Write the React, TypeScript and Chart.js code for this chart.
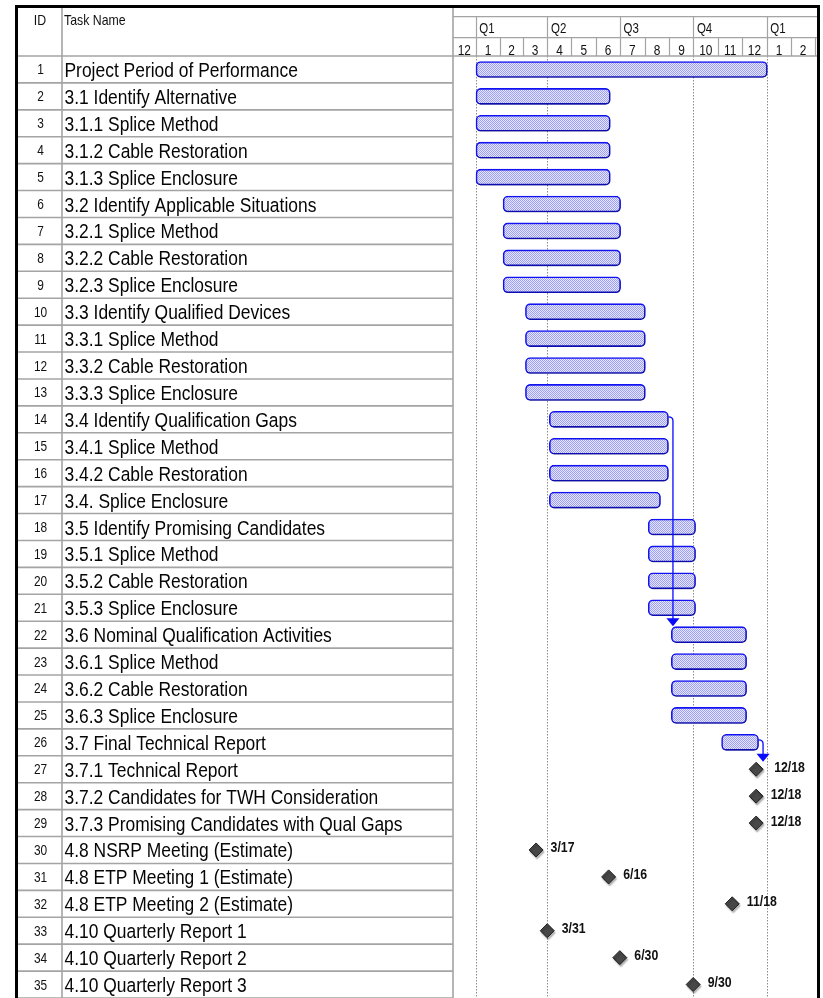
import React, { useEffect, useRef } from "react";
import { Chart, registerables } from "chart.js";

Chart.register(...registerables);

// ---------------- DATA ----------------
const BASE_YEAR = 2015;

const taskIds = [
  1, 2, 3, 4, 5, 6, 7, 8, 9, 10, 11, 12, 13, 14, 15, 16, 17, 18, 19, 20, 21, 22, 23, 24, 25, 26, 27, 28,
  29, 30, 31, 32, 33, 34, 35,
];

const taskNames = [
  "Project Period of Performance",
  "3.1 Identify Alternative",
  "3.1.1 Splice Method",
  "3.1.2 Cable Restoration",
  "3.1.3 Splice Enclosure",
  "3.2 Identify Applicable Situations",
  "3.2.1 Splice Method",
  "3.2.2 Cable Restoration",
  "3.2.3 Splice Enclosure",
  "3.3 Identify Qualified Devices",
  "3.3.1 Splice Method",
  "3.3.2 Cable Restoration",
  "3.3.3 Splice Enclosure",
  "3.4 Identify Qualification Gaps",
  "3.4.1 Splice Method",
  "3.4.2 Cable Restoration",
  "3.4. Splice Enclosure",
  "3.5 Identify Promising Candidates",
  "3.5.1 Splice Method",
  "3.5.2 Cable Restoration",
  "3.5.3 Splice Enclosure",
  "3.6 Nominal Qualification Activities",
  "3.6.1 Splice Method",
  "3.6.2 Cable Restoration",
  "3.6.3 Splice Enclosure",
  "3.7 Final Technical Report",
  "3.7.1 Technical Report",
  "3.7.2 Candidates for TWH Consideration",
  "3.7.3 Promising Candidates with Qual Gaps",
  "4.8 NSRP Meeting (Estimate)",
  "4.8 ETP Meeting 1 (Estimate)",
  "4.8 ETP Meeting 2 (Estimate)",
  "4.10 Quarterly Report 1",
  "4.10 Quarterly Report 2",
  "4.10 Quarterly Report 3",
];

const barStarts: (string | null)[] = [
  "2015-01-01",
  "2015-01-01", "2015-01-01", "2015-01-01", "2015-01-01",
  "2015-02-04", "2015-02-04", "2015-02-04", "2015-02-04",
  "2015-03-04", "2015-03-04", "2015-03-04", "2015-03-04",
  "2015-04-03", "2015-04-03", "2015-04-03", "2015-04-03",
  "2015-08-05", "2015-08-05", "2015-08-05", "2015-08-05",
  "2015-09-03", "2015-09-03", "2015-09-03", "2015-09-03",
  "2015-11-05",
  null, null, null, null, null, null, null, null, null,
];

const barFinishes: (string | null)[] = [
  "2016-01-01",
  "2015-06-18", "2015-06-18", "2015-06-18", "2015-06-18",
  "2015-07-01", "2015-07-01", "2015-07-01", "2015-07-01",
  "2015-08-01", "2015-08-01", "2015-08-01", "2015-08-01",
  "2015-08-30", "2015-08-30", "2015-08-30", "2015-08-20",
  "2015-10-03", "2015-10-03", "2015-10-03", "2015-10-03",
  "2015-12-06", "2015-12-06", "2015-12-06", "2015-12-06",
  "2015-12-21",
  null, null, null, null, null, null, null, null, null,
];

const milestoneDates: (string | null)[] = [
  null, null, null, null, null, null, null, null, null, null, null, null, null, null, null, null, null,
  null, null, null, null, null, null, null, null, null,
  "2015-12-18", "2015-12-18", "2015-12-18",
  "2015-03-17", "2015-06-16", "2015-11-18",
  "2015-03-31", "2015-06-30", "2015-09-30",
];

const quarterLabels = ["Q1", "Q2", "Q3", "Q4", "Q1"];
const quarterStarts = ["2015-01-01", "2015-04-01", "2015-07-01", "2015-10-01", "2016-01-01"];

const monthLabels = ["12", "1", "2", "3", "4", "5", "6", "7", "8", "9", "10", "11", "12", "1", "2"];
const monthStarts = [
  "2014-12-01", "2015-01-01", "2015-02-01", "2015-03-01", "2015-04-01", "2015-05-01", "2015-06-01",
  "2015-07-01", "2015-08-01", "2015-09-01", "2015-10-01", "2015-11-01", "2015-12-01", "2016-01-01",
  "2016-02-01",
];
const monthsEnd = "2016-03-01";

const gridlineDates = ["2015-01-01", "2015-04-01", "2015-10-01", "2016-01-01"];
const dependencyLinks: [number, number][] = [
  [14, 22],
  [26, 27],
];

const axisStartDate = "2014-12-03";
const axisEndDate = "2016-03-04";

// ---------------- HELPERS ----------------
function dayOf(s: string): number {
  const [y, m, d] = s.split("-").map(Number);
  return (Date.UTC(y, m - 1, d) - Date.UTC(BASE_YEAR, 0, 1)) / 86400000;
}
const WORK_START = 8 / 24;
const WORK_END = 17 / 24;

function shortDate(s: string): string {
  const [, m, d] = s.split("-").map(Number);
  return `${m}/${d}`;
}

const FONT = '"Liberation Sans", Arial, Helvetica, sans-serif';

function narrowText(
  ctx: CanvasRenderingContext2D,
  text: string,
  x: number,
  y: number,
  font: string,
  sx: number,
  align: CanvasTextAlign,
  color: string
) {
  ctx.save();
  ctx.font = font;
  ctx.fillStyle = color;
  ctx.textAlign = align;
  ctx.textBaseline = "alphabetic";
  ctx.translate(x, y);
  ctx.scale(sx, 1);
  ctx.fillText(text, 0, 0);
  ctx.restore();
}

const W = 823;
const H = 998;
const FRAME_L = 15;
const FRAME_T = 5;
const FRAME_R = 820;
const FRAME_W = 3;
const ID_RIGHT = 62;
const HEADER_BOTTOM = 56;
const TIER1 = 16.7;
const TIER2 = 37.7;
const GRID_GRAY = "#a4a4a4";

export default function App() {
  const canvasRef = useRef<HTMLCanvasElement | null>(null);

  useEffect(() => {
    const canvas = canvasRef.current;
    if (!canvas) return;
    const ctx0 = canvas.getContext("2d")!;

    const pc = document.createElement("canvas");
    pc.width = 2;
    pc.height = 2;
    const pctx = pc.getContext("2d")!;
    pctx.fillStyle = "#e6e7fe";
    pctx.fillRect(0, 0, 2, 2);
    pctx.fillStyle = "#9c9ff4";
    pctx.fillRect(0, 0, 1, 1);
    pctx.fillRect(1, 1, 1, 1);
    const pattern = ctx0.createPattern(pc, "repeat")!;

    const barData = barStarts.map((s, i) =>
      s && barFinishes[i] ? [dayOf(s) + WORK_START, dayOf(barFinishes[i] as string) + WORK_END] : null
    );
    const barEndDays = barData.map((b) => (b ? (b as number[])[1] : null));
    const milestoneDays = milestoneDates.map((s) => (s ? dayOf(s) + WORK_END : null));

    const tablePlugin = {
      id: "ganttTable",
      beforeDraw(chart: any) {
        const { ctx, chartArea, scales } = chart;
        const x = scales.x;
        ctx.save();
        ctx.fillStyle = "#ffffff";
        ctx.fillRect(0, 0, W, H);
        // dotted vertical gridlines
        ctx.strokeStyle = "#8a8a8a";
        ctx.lineWidth = 1;
        ctx.setLineDash([1.5, 1.5]);
        gridlineDates.forEach((d) => {
          const px = Math.round(x.getPixelForValue(dayOf(d))) + 0.5;
          ctx.beginPath();
          ctx.moveTo(px, HEADER_BOTTOM);
          ctx.lineTo(px, chartArea.bottom);
          ctx.stroke();
        });
        ctx.restore();
      },
      beforeDatasetDraw(chart: any) {
        const ctx = chart.ctx;
        ctx.save();
        ctx.shadowColor = "rgba(0,0,0,0.28)";
        ctx.shadowOffsetX = 1;
        ctx.shadowOffsetY = 2;
        ctx.shadowBlur = 1.5;
      },
      afterDatasetDraw(chart: any) {
        chart.ctx.restore();
      },
      afterDatasetsDraw(chart: any) {
        const { ctx, scales } = chart;
        const x = scales.x;
        const y = scales.y;
        // dependency links
        ctx.save();
        dependencyLinks.forEach(([from, to]) => {
          const fi = from - 1;
          const ti = to - 1;
          const endDay = barEndDays[fi];
          if (endDay == null) return;
          const endX = x.getPixelForValue(endDay);
          const cy = y.getPixelForValue(fi) - 2.5;
          const vx = endX + 4.5;
          const tcy = y.getPixelForValue(ti);
          const tipY = milestoneDays[ti] != null ? tcy - 7.5 : tcy - 8.5;
          ctx.strokeStyle = "#0a0aff";
          ctx.fillStyle = "#0a0aff";
          ctx.lineWidth = 1.3;
          ctx.beginPath();
          ctx.moveTo(endX, cy);
          ctx.quadraticCurveTo(vx, cy, vx, cy + 4);
          ctx.lineTo(vx, tipY - 7);
          ctx.stroke();
          ctx.beginPath();
          ctx.moveTo(vx - 6.5, tipY - 8);
          ctx.lineTo(vx + 6.5, tipY - 8);
          ctx.lineTo(vx, tipY);
          ctx.closePath();
          ctx.fill();
        });
        ctx.restore();
        // milestone labels
        const linkedTargets = dependencyLinks.map(([, t]) => t - 1);
        milestoneDates.forEach((s, i) => {
          const md = milestoneDays[i];
          if (!s || md == null) return;
          const px = x.getPixelForValue(md);
          const cy = y.getPixelForValue(i);
          const off = linkedTargets.includes(i) ? 18 : 14.5;
          narrowText(ctx, shortDate(s), px + off, cy + 2.5, `bold 15px ${FONT}`, 0.82, "left", "#111111");
        });
      },
      afterDraw(chart: any) {
        const { ctx, chartArea, scales } = chart;
        const x = scales.x;
        const y = scales.y;
        const left = chartArea.left;
        const right = chartArea.right;
        const rowH = (chartArea.bottom - chartArea.top) / taskNames.length;
        ctx.save();
        // table row lines
        ctx.strokeStyle = GRID_GRAY;
        ctx.lineWidth = 1.6;
        for (let i = 0; i < taskNames.length; i++) {
          const by = chartArea.top + (i + 1) * rowH;
          ctx.beginPath();
          ctx.moveTo(FRAME_L + FRAME_W, by);
          ctx.lineTo(left, by);
          ctx.stroke();
        }
        // header bottom
        ctx.beginPath();
        ctx.moveTo(FRAME_L + FRAME_W, HEADER_BOTTOM);
        ctx.lineTo(right, HEADER_BOTTOM);
        ctx.stroke();
        // column separators
        ctx.beginPath();
        ctx.moveTo(ID_RIGHT, FRAME_T + FRAME_W);
        ctx.lineTo(ID_RIGHT, H);
        ctx.moveTo(left, FRAME_T + FRAME_W);
        ctx.lineTo(left, H);
        ctx.stroke();

        // timeline header lines
        ctx.lineWidth = 1.2;
        ctx.beginPath();
        ctx.moveTo(left, TIER1);
        ctx.lineTo(right, TIER1);
        ctx.moveTo(left, TIER2);
        ctx.lineTo(right, TIER2);
        ctx.stroke();
        // quarter separators
        quarterStarts.forEach((q) => {
          const px = Math.round(x.getPixelForValue(dayOf(q))) + 0.5;
          ctx.beginPath();
          ctx.moveTo(px, TIER1);
          ctx.lineTo(px, TIER2);
          ctx.stroke();
        });
        // month separators
        [...monthStarts, monthsEnd].forEach((m) => {
          const px = Math.round(x.getPixelForValue(dayOf(m))) + 0.5;
          if (px <= left + 1 || px >= right) return;
          ctx.beginPath();
          ctx.moveTo(px, TIER2);
          ctx.lineTo(px, HEADER_BOTTOM);
          ctx.stroke();
        });
        ctx.restore();

        // header texts
        narrowText(ctx, "ID", (FRAME_L + FRAME_W + ID_RIGHT) / 2, 25, `14.5px ${FONT}`, 0.85, "center", "#111");
        narrowText(ctx, "Task Name", ID_RIGHT + 2, 25, `14.5px ${FONT}`, 0.85, "left", "#111");
        quarterLabels.forEach((q, i) => {
          const px = x.getPixelForValue(dayOf(quarterStarts[i]));
          narrowText(ctx, q, px + 3.5, 33, `14px ${FONT}`, 0.82, "left", "#111");
        });
        monthLabels.forEach((m, i) => {
          const a = Math.max(left, x.getPixelForValue(dayOf(monthStarts[i])));
          const nextDate = i + 1 < monthStarts.length ? monthStarts[i + 1] : monthsEnd;
          const b = Math.min(right, x.getPixelForValue(dayOf(nextDate)));
          narrowText(ctx, m, (a + b) / 2, 54.5, `14.5px ${FONT}`, 0.82, "center", "#111");
        });

        // table texts
        taskNames.forEach((name, i) => {
          const cy = y.getPixelForValue(i);
          narrowText(ctx, String(taskIds[i]), (FRAME_L + FRAME_W + ID_RIGHT) / 2 + 0.5, cy + 5, `14.5px ${FONT}`, 0.82, "center", "#111");
          narrowText(ctx, name, ID_RIGHT + 2.5, cy + 7.5, `20.5px ${FONT}`, 0.85, "left", "#050505");
        });

        // frame
        ctx.save();
        ctx.fillStyle = "#000000";
        ctx.fillRect(FRAME_L, FRAME_T, FRAME_R - FRAME_L, FRAME_W);
        ctx.fillRect(FRAME_L, FRAME_T, FRAME_W, H - FRAME_T);
        ctx.fillRect(FRAME_R - FRAME_W, FRAME_T, FRAME_W, H - FRAME_T);
        ctx.restore();
      },
    };

    const chart = new Chart(canvas, {
      type: "bar",
      data: {
        labels: taskNames,
        datasets: [
          {
            type: "bar",
            label: "Tasks",
            indexAxis: "y",
            data: barData as any,
            backgroundColor: pattern,
            borderColor: "#1212f2",
            borderWidth: 1.6,
            borderRadius: 5,
            borderSkipped: false,
            barThickness: 16,
          } as any,
          {
            type: "line",
            label: "Milestones",
            indexAxis: "y",
            data: milestoneDays as any,
            showLine: false,
            pointStyle: "rectRot",
            pointRadius: 7,
            pointHoverRadius: 7,
            pointBackgroundColor: "#474747",
            pointBorderColor: "#1f1f1f",
            pointBorderWidth: 1,
          } as any,
        ],
      },
      options: {
        indexAxis: "y",
        responsive: false,
        animation: false,
        events: [],
        layout: { autoPadding: false, padding: { left: 453, right: W - 817, top: HEADER_BOTTOM, bottom: 0 } },
        scales: {
          x: {
            type: "linear",
            min: dayOf(axisStartDate) + 0.5,
            max: dayOf(axisEndDate),
            display: false,
          },
          y: {
            type: "category",
            display: false,
            offset: true,
          },
        },
        plugins: {
          legend: { display: false },
          tooltip: { enabled: false },
        },
      },
      plugins: [tablePlugin],
    });

    return () => chart.destroy();
  }, []);

  return (
    <div style={{ position: "absolute", left: 0, top: 0, width: W, height: H, background: "#fff" }}>
      <canvas ref={canvasRef} width={W} height={H} style={{ display: "block" }} />
    </div>
  );
}
